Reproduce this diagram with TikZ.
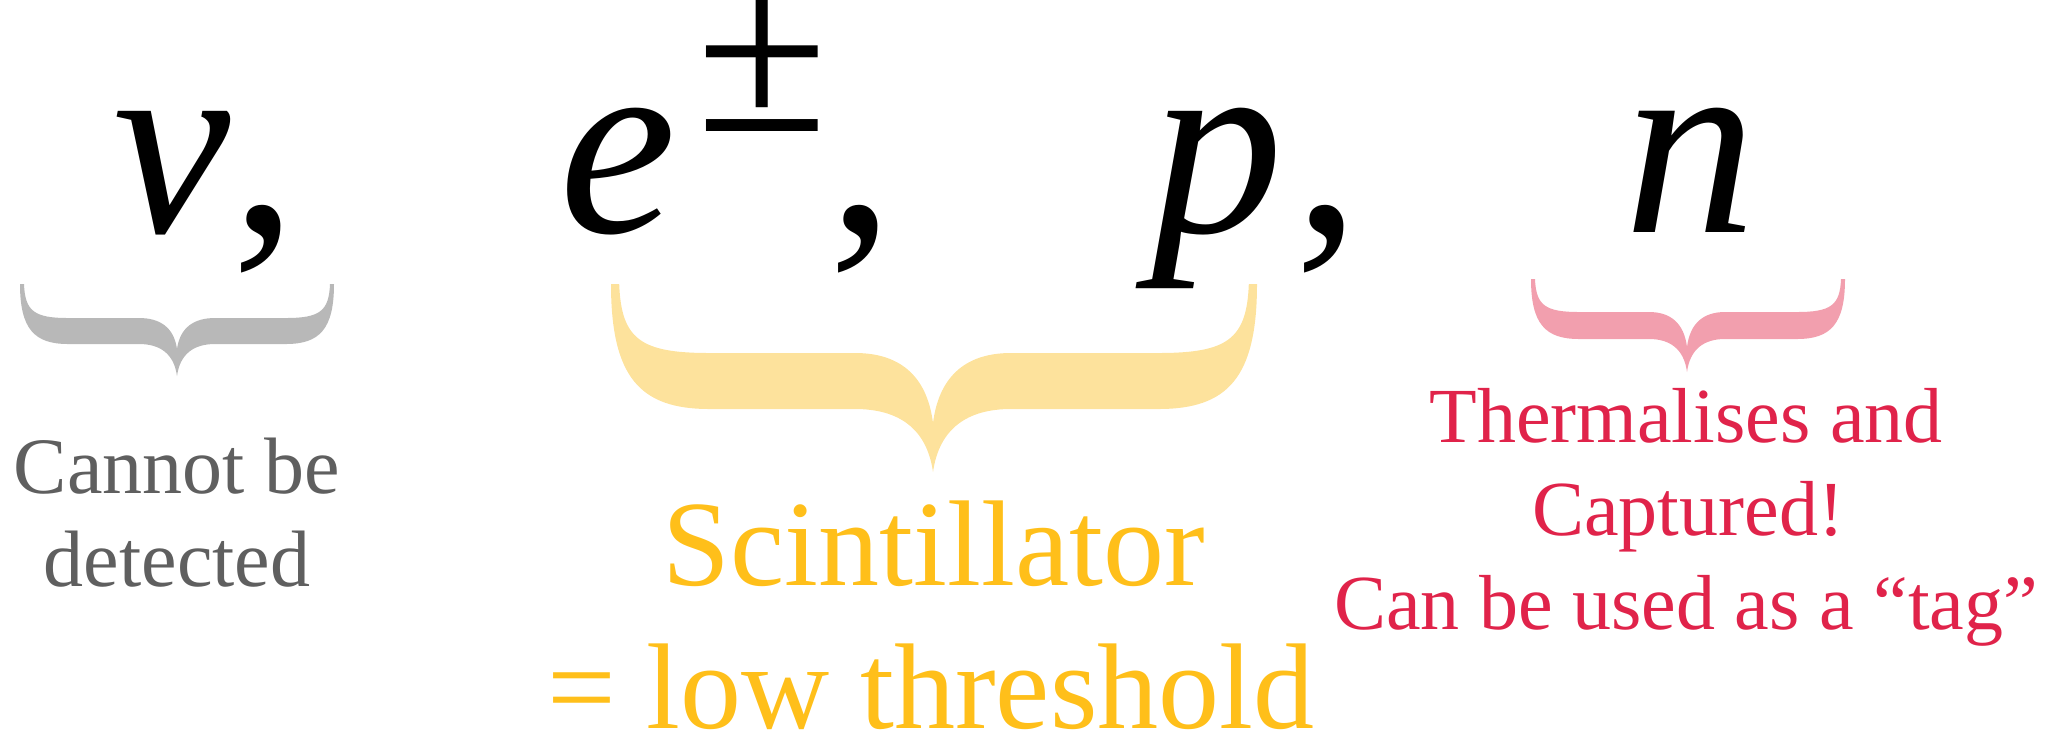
\documentclass[tikz,border=0pt]{standalone}
\usepackage{fontspec}
\setmainfont{LiberationSerif}[Extension=.ttf, UprightFont=*-Regular, ItalicFont=*-Italic, BoldFont=*-Bold, BoldItalicFont=*-BoldItalic]
\definecolor{bracegray}{HTML}{B8B8B8}
\definecolor{braceyel}{HTML}{FDE29C}
\definecolor{bracepink}{HTML}{F29FAE}
\definecolor{txtgray}{HTML}{5F5F5F}
\definecolor{txtyel}{HTML}{FFBF1A}
\definecolor{txtred}{HTML}{E0234A}
% #1 xL, #2 xR, #3 xm, #4 ytop, #5 bar top, #6 bar bottom, #7 cusp, #8 tip, #9 scale
\newcommand\mybrace[9]{%
 (#1,#4) .. controls (#1,{#6-0.25*(#6-#4)}) and ({#1+0.3*48*#9},#6) .. ({#1+48*#9},#6)
 -- ({#3-38*#9},#6) .. controls ({#3-0.45*38*#9},#6) and ({#3-0.08*38*#9},{#6+0.3*(#8-#6)}) .. (#3,#8)
 .. controls ({#3+0.08*38*#9},{#6+0.3*(#8-#6)}) and ({#3+0.45*38*#9},#6) .. ({#3+38*#9},#6)
 -- ({#2-48*#9},#6) .. controls ({#2-0.3*48*#9},#6) and (#2,{#6-0.25*(#6-#4)}) .. (#2,#4)
 -- ({#2-4*#9},#4) .. controls ({#2-5*#9},{#5-0.2*(#5-#4)}) and ({#2-0.3*48*#9},#5) .. ({#2-48*#9},#5)
 -- ({#3+38*#9},#5) .. controls ({#3+0.45*38*#9},#5) and ({#3+0.08*38*#9},{#5+0.3*(#7-#5)}) .. (#3,#7)
 .. controls ({#3-0.08*38*#9},{#5+0.3*(#7-#5)}) and ({#3-0.45*38*#9},#5) .. ({#3-38*#9},#5)
 -- ({#1+48*#9},#5) .. controls ({#1+0.3*48*#9},#5) and ({#1+5*#9},{#5-0.2*(#5-#4)}) .. ({#1+4*#9},#4) -- cycle}
\tikzset{
 mathsym/.style={font=\fontsize{132}{132}\selectfont\itshape, inner sep=0pt, anchor=base, text height=0.7em},
 punct/.style={font=\fontsize{132}{132}\selectfont, inner sep=0pt, anchor=base, text height=0.5em},
 supsym/.style={font=\fontsize{120}{120}\selectfont, inner sep=0pt, anchor=base, text height=0.52em, text depth=0pt},
 graylbl/.style={font=\fontsize{40}{40}\selectfont, text=txtgray, inner sep=0pt, anchor=base},
 yellbl/.style={font=\fontsize{61}{61}\selectfont, text=txtyel, inner sep=0pt, anchor=base, text depth=0pt},
 redlbl/.style={font=\fontsize{39}{39}\selectfont, text=txtred, inner sep=0pt, anchor=base},
}
\begin{document}
\begin{tikzpicture}[x=0.5pt,y=-0.5pt]
\useasboundingbox (0,0) rectangle (2061,736);
% particles
\node[mathsym] (nu) at (172,232) {ν};
\node[punct] (c1) at (264,232) {,};
\node[mathsym] (e) at (618,232) {e};
\node[supsym] (pm) at (762,131) {±};
\node[punct] (c2) at (861,232) {,};
\node[mathsym] (p) at (1217,232) {p};
\node[punct] (c3) at (1327,232) {,};
\node[mathsym] (n) at (1690,232) {n};
% braces
\fill[bracegray] \mybrace{20}{334}{177}{284}{318}{344}{349}{376}{1};
\fill[braceyel] \mybrace{611}{1257}{933}{284}{353}{409}{423}{472}{2.05};
\fill[bracepink] \mybrace{1531}{1845}{1687}{279}{312}{339}{347}{372}{1};
% labels
\node[graylbl] (g1) at (177,493) {Cannot be};
\node[graylbl] (g2) at (177,586) {detected};
\node[yellbl] (y1) at (934,585) {Scintillator};
\node[yellbl] (y2) at (931,728) {= low threshold};
\node[redlbl] (r1) at (1686,442) {Thermalises and};
\node[redlbl] (r2) at (1688,535) {Captured!};
\node[redlbl] (r3) at (1686,629) {Can be used as a “tag”};
\end{tikzpicture}
\end{document}
